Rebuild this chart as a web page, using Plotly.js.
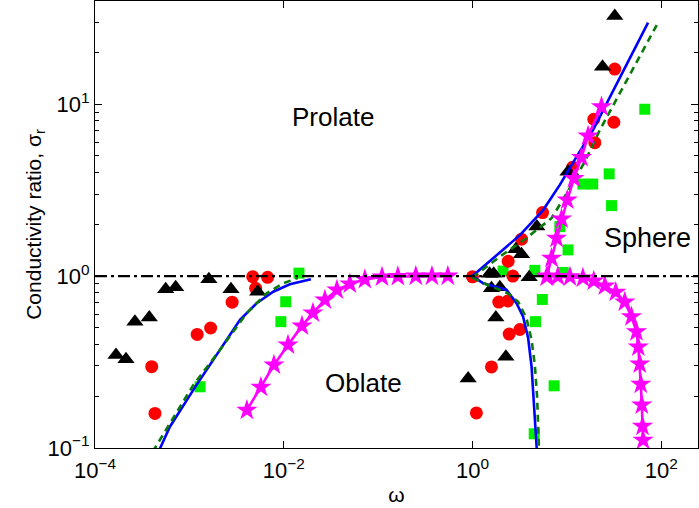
<!DOCTYPE html>
<html>
<head>
<meta charset="utf-8">
<script src="https://cdn.plot.ly/plotly-3.0.1.min.js"></script>
<style>html,body{margin:0;padding:0;background:#fff;}#chart{width:699px;height:508px;}</style>
</head>
<body>
<div id="chart"></div>
<script>
// ---- experimental points ----
const triOmega = [1.67e-4, 2.13e-4, 2.65e-4, 3.76e-4, 5.61e-4, 7.16e-4, 1.61e-3, 2.76e-3, 5.30e-3,
  0.90, 1.52, 1.68, 1.59, 1.95, 1.77, 2.26, 2.88, 3.31, 3.99, 4.81, 10.3, 23.9, 32.2];
const triSigma = [0.348, 0.328, 0.543, 0.575, 0.838, 0.861, 0.958, 0.838, 0.811,
  0.254, 1.03, 1.03, 0.849, 0.861, 0.575, 0.340, 1.43, 1.34, 0.984, 1.94, 4.05, 16.5, 32.6];

const circOmega = [3.99e-4, 4.32e-4, 1.21e-3, 1.68e-3, 2.84e-3, 4.69e-3, 5.04e-3, 6.75e-3,
  1.00, 1.10, 1.59, 1.90, 2.37, 2.45, 3.18, 2.68, 2.39, 3.31, 5.53, 11.5, 19.8, 19.3, 31.5, 32.2];
const circSigma = [0.297, 0.159, 0.458, 0.499, 0.705, 0.992, 0.849, 0.984,
  0.99, 0.160, 0.296, 0.706, 0.716, 0.460, 0.489, 1.00, 1.22, 1.64, 2.34, 4.29, 5.97, 8.17, 7.85, 16.0];

const sqOmega = [1.30e-3, 9.33e-3, 0.0105, 0.0145, 2.11, 4.58, 9.14, 5.50, 4.66, 7.33, 4.51,
  10.3, 8.43, 14.8, 18.8, 28.1, 29.8, 67.0];
const sqSigma = [0.227, 0.543, 0.709, 1.04, 1.07, 1.08, 1.05, 0.731, 0.543, 0.230, 0.121,
  1.42, 1.94, 3.43, 3.43, 3.93, 2.57, 9.34];

// ---- model curves ----
const blueLeftOmega = [4.5e-4, 4.89e-4, 6.22e-4, 1.15e-3, 1.79e-3, 2.48e-3, 3.44e-3, 5.16e-3, 7.74e-3, 0.0116, 0.0194];
const blueLeftSigma = [0.09, 0.1, 0.133, 0.226, 0.325, 0.425, 0.556, 0.695, 0.811, 0.895, 0.957];
const blueUpOmega = [1.0, 1.95, 3.18, 5.61, 8.43, 12.7, 19.0, 72.6];
const blueUpSigma = [1.0, 1.37, 1.73, 2.42, 3.39, 4.95, 7.08, 29.8];
const blueDownOmega = [1.0, 1.30, 2.30, 2.93, 3.44, 3.89, 4.23, 4.47, 4.78, 4.85];
const blueDownSigma = [1.0, 0.908, 0.830, 0.695, 0.581, 0.436, 0.297, 0.174, 0.1, 0.09];

const dashLeftOmega = [4.1e-4, 4.32e-4, 1.10e-3, 2.11e-3, 4.05e-3, 6.59e-3, 9.89e-3, 0.0141];
const dashLeftSigma = [0.095, 0.1, 0.232, 0.372, 0.608, 0.794, 0.908, 0.975];
const dashUpOmega = [1.0, 2.0, 3.5, 6.89, 10.0, 15.5, 22.4, 92.0];
const dashUpSigma = [0.98, 1.31, 1.62, 2.17, 3.04, 4.63, 7.08, 29.6];
const dashDownOmega = [1.0, 1.20, 2.37, 3.05, 3.74, 4.23, 4.58, 4.84, 5.05, 5.1];
const dashDownSigma = [0.98, 0.928, 0.794, 0.709, 0.568, 0.425, 0.304, 0.199, 0.104, 0.095];

const starLeftOmega = [4.07e-3, 5.73e-3, 7.87e-3, 0.0111, 0.0156, 0.0204, 0.0273, 0.0366, 0.0502, 0.0724, 0.110, 0.162, 0.251, 0.372, 0.548];
const starLeftSigma = [0.166, 0.226, 0.304, 0.397, 0.513, 0.610, 0.726, 0.830, 0.900, 0.955, 0.988, 0.995, 1.0, 1.0, 1.0];
const starRightOmega = [6.29, 8.03, 10.8, 14.8, 19.3, 25.3, 33.0, 41.1, 48.4, 54.7, 57.2, 59.3, 60.8, 62.3, 63.4, 64.3];
const starRightSigma = [1.0, 0.995, 0.99, 0.975, 0.936, 0.875, 0.807, 0.706, 0.581, 0.475, 0.387, 0.308, 0.235, 0.178, 0.134, 0.111];
const starUpOmega = [6.10, 6.89, 7.78, 8.79, 10.1, 11.9, 14.3, 16.8, 23.3];
const starUpSigma = [0.99, 1.27, 1.66, 2.15, 2.77, 3.70, 4.90, 6.53, 9.67];

const sphereOmega = [1e-4, 250];
const sphereSigma = [1, 1];

const xTickVals = [1e-4, 1e-2, 1, 100];
const xTickText = ['10<sup>\u22124</sup>', '10<sup>\u22122</sup>', '10<sup>0</sup>', '10<sup>2</sup>'];
const yTickVals = [0.1, 1, 10];
const yTickText = ['10<sup>\u22121</sup>', '10<sup>0</sup>', '10<sup>1</sup>'];
const yMinorVals = [0.2,0.3,0.4,0.5,0.6,0.7,0.8,0.9,2,3,4,5,6,7,8,9,20,30];

const FONT = 'Liberation Sans, Arial, Helvetica, sans-serif';
const BLUE = '#0000ff', DGREEN = '#0a7a0a', LIME = '#00f000', RED = '#ff0000', MAG = '#ff00ff';

function line(x, y, color, dash, w) {
  return {x: x, y: y, type: 'scatter', mode: 'lines', showlegend: false, hoverinfo: 'skip',
    line: {color: color, width: w || 2.6, dash: dash || 'solid'}};
}
function starLine(x, y) {
  return {x: x, y: y, type: 'scatter', mode: 'lines+markers', showlegend: false,
    line: {color: MAG, width: 2.6}, marker: {symbol: 'star', size: 16, color: MAG}};
}
function pts(x, y, symbol, size, color) {
  return {x: x, y: y, type: 'scatter', mode: 'markers', showlegend: false,
    marker: {symbol: symbol, size: size, color: color, line: {width: 0}}};
}

const data = [
  pts(sqOmega, sqSigma, 'square', 11, LIME),
  pts(circOmega, circSigma, 'circle', 13, RED),
  pts(triOmega, triSigma, 'triangle-up', 15, '#000'),
  line(blueLeftOmega, blueLeftSigma, BLUE),
  line(blueUpOmega, blueUpSigma, BLUE),
  line(blueDownOmega, blueDownSigma, BLUE),
  line(dashLeftOmega, dashLeftSigma, DGREEN, '7px,5px'),
  line(dashUpOmega, dashUpSigma, DGREEN, '7px,5px'),
  line(dashDownOmega, dashDownSigma, DGREEN, '7px,5px'),
  starLine(starLeftOmega, starLeftSigma),
  starLine(starRightOmega, starRightSigma),
  starLine(starUpOmega, starUpSigma),
  line(sphereOmega, sphereSigma, '#000', '12px,4px,3px,4px', 2.4)
];

const axisCommon = {
  type: 'log', showgrid: false, zeroline: false, showline: true, linecolor: '#000', linewidth: 1,
  mirror: 'ticks', ticks: 'inside', ticklen: 7, tickcolor: '#000', tickwidth: 1,
  tickmode: 'array', tickfont: {family: FONT, size: 22, color: '#000'}, automargin: false
};

const layout = {
  width: 699, height: 508,
  margin: {l: 95, r: 1, t: 1, b: 60},
  paper_bgcolor: '#fff', plot_bgcolor: '#fff',
  font: {family: FONT, color: '#000'},
  xaxis: Object.assign({}, axisCommon, {
    range: [-4, 2.39], tickvals: xTickVals, ticktext: xTickText, ticklabelstandoff: 3,
    title: {text: '\u03c9', font: {family: FONT, size: 21, color: '#000'}, standoff: 4}
  }),
  yaxis: Object.assign({}, axisCommon, {
    range: [-1, 1.6], tickvals: yTickVals, ticktext: yTickText,
    minor: {tickmode: 'array', tickvals: yMinorVals, ticks: 'inside', ticklen: 4, tickcolor: '#000', showgrid: false},
    title: {text: 'Conductivity ratio, \u03c3<sub>r</sub>', font: {family: FONT, size: 21, color: '#000'}, standoff: 0}
  }),
  annotations: [
    {x: -1.479, y: 0.926, xref: 'x', yref: 'y', text: 'Prolate', showarrow: false, font: {family: FONT, size: 26, color: '#000'}},
    {x: -1.150, y: -0.622, xref: 'x', yref: 'y', text: 'Oblate', showarrow: false, font: {family: FONT, size: 26, color: '#000'}},
    {x: 1.858, y: 0.222, xref: 'x', yref: 'y', text: 'Sphere', showarrow: false, font: {family: FONT, size: 27, color: '#000'}}
  ]
};

Plotly.newPlot('chart', data, layout, {staticPlot: true, displayModeBar: false});
</script>
</body>
</html>
